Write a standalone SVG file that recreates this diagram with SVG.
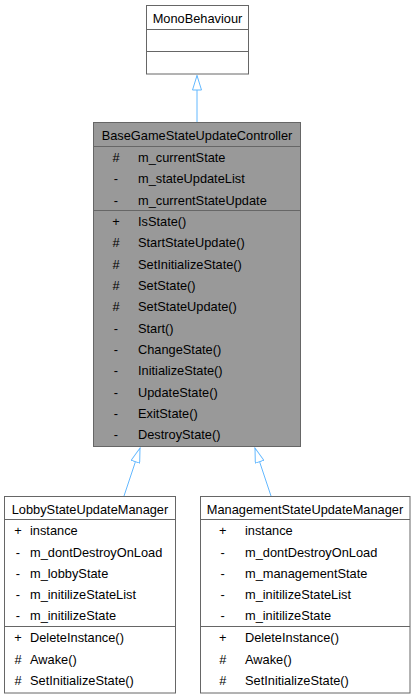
<svg xmlns="http://www.w3.org/2000/svg" width="416" height="699" viewBox="0 0 416 699">
<defs>
<style>
.box{fill:#ffffff;stroke:#666666;stroke-width:1}
.hl{fill:#999999;stroke:#666666;stroke-width:1}
.div{stroke:#666666;stroke-width:1}
text{font-family:"Liberation Sans",Arial,sans-serif;font-size:12.8px;fill:#000000}
.c{text-anchor:middle}
.edge{stroke:#63B8FF;stroke-width:1;fill:none}
</style>
<marker id="inh" viewBox="0 -5 16 10" refX="15" refY="0" markerWidth="16" markerHeight="10" markerUnits="userSpaceOnUse" orient="auto">
<path d="M0.5,-4.5 L15,0 L0.5,4.5 Z" fill="#ffffff" stroke="#63B8FF" stroke-width="1"/>
</marker>
</defs>
<rect width="416" height="699" fill="#ffffff"/>
<g id="connectors">
<line class="edge" x1="197" y1="122" x2="197" y2="75.5" marker-end="url(#inh)"/>
<line class="edge" x1="124" y1="496" x2="140" y2="448" marker-end="url(#inh)"/>
<line class="edge" x1="271" y1="496" x2="255" y2="448" marker-end="url(#inh)"/>
</g>
<g id="MonoBehaviour">
<rect class="box" x="146.5" y="5.5" width="102" height="68.5"/>
<line class="div" x1="146.5" y1="29.5" x2="248.5" y2="29.5"/>
<line class="div" x1="146.5" y1="51.5" x2="248.5" y2="51.5"/>
<text class="c" x="197.5" y="22.5">MonoBehaviour</text>
</g>
<g id="BaseGameStateUpdateController">
<rect class="hl" x="93.5" y="122.5" width="207" height="324"/>
<line class="div" x1="93.5" y1="146.5" x2="300.5" y2="146.5"/>
<line class="div" x1="93.5" y1="210.5" x2="300.5" y2="210.5"/>
<text class="c" x="197" y="140">BaseGameStateUpdateController</text>
<text class="c" x="116" y="162">#</text><text x="138" y="162">m_currentState</text>
<text class="c" x="116" y="183.3">-</text><text x="138" y="183.3">m_stateUpdateList</text>
<text class="c" x="116" y="204.7">-</text><text x="138" y="204.7">m_currentStateUpdate</text>
<text class="c" x="116" y="226">+</text><text x="138" y="226">IsState()</text>
<text class="c" x="116" y="247.3">#</text><text x="138" y="247.3">StartStateUpdate()</text>
<text class="c" x="116" y="268.7">#</text><text x="138" y="268.7">SetInitializeState()</text>
<text class="c" x="116" y="290">#</text><text x="138" y="290">SetState()</text>
<text class="c" x="116" y="311.3">#</text><text x="138" y="311.3">SetStateUpdate()</text>
<text class="c" x="116" y="332.7">-</text><text x="138" y="332.7">Start()</text>
<text class="c" x="116" y="354">-</text><text x="138" y="354">ChangeState()</text>
<text class="c" x="116" y="375.3">-</text><text x="138" y="375.3">InitializeState()</text>
<text class="c" x="116" y="396.7">-</text><text x="138" y="396.7">UpdateState()</text>
<text class="c" x="116" y="418">-</text><text x="138" y="418">ExitState()</text>
<text class="c" x="116" y="439.3">-</text><text x="138" y="439.3">DestroyState()</text>
</g>
<g id="LobbyStateUpdateManager">
<rect class="box" x="4.5" y="496.5" width="171" height="196.5"/>
<line class="div" x1="4.5" y1="519.5" x2="175.5" y2="519.5"/>
<line class="div" x1="4.5" y1="626.5" x2="175.5" y2="626.5"/>
<text class="c" x="90" y="513.5">LobbyStateUpdateManager</text>
<text class="c" x="18" y="535.2">+</text><text x="30" y="535.2">instance</text>
<text class="c" x="18" y="556.5">-</text><text x="30" y="556.5">m_dontDestroyOnLoad</text>
<text class="c" x="18" y="577.7">-</text><text x="30" y="577.7">m_lobbyState</text>
<text class="c" x="18" y="599">-</text><text x="30" y="599">m_initilizeStateList</text>
<text class="c" x="18" y="620.2">-</text><text x="30" y="620.2">m_initilizeState</text>
<text class="c" x="18" y="642.2">+</text><text x="30" y="642.2">DeleteInstance()</text>
<text class="c" x="18" y="663.5">#</text><text x="30" y="663.5">Awake()</text>
<text class="c" x="18" y="684.7">#</text><text x="30" y="684.7">SetInitializeState()</text>
</g>
<g id="ManagementStateUpdateManager">
<rect class="box" x="200.5" y="496.5" width="209.5" height="196.5"/>
<line class="div" x1="200.5" y1="519.5" x2="410" y2="519.5"/>
<line class="div" x1="200.5" y1="626.5" x2="410" y2="626.5"/>
<text class="c" x="305" y="513.5">ManagementStateUpdateManager</text>
<text class="c" x="222.7" y="535.2">+</text><text x="245" y="535.2">instance</text>
<text class="c" x="222.7" y="556.5">-</text><text x="245" y="556.5">m_dontDestroyOnLoad</text>
<text class="c" x="222.7" y="577.7">-</text><text x="245" y="577.7">m_managementState</text>
<text class="c" x="222.7" y="599">-</text><text x="245" y="599">m_initilizeStateList</text>
<text class="c" x="222.7" y="620.2">-</text><text x="245" y="620.2">m_initilizeState</text>
<text class="c" x="222.7" y="642.2">+</text><text x="245" y="642.2">DeleteInstance()</text>
<text class="c" x="222.7" y="663.5">#</text><text x="245" y="663.5">Awake()</text>
<text class="c" x="222.7" y="684.7">#</text><text x="245" y="684.7">SetInitializeState()</text>
</g>
</svg>
